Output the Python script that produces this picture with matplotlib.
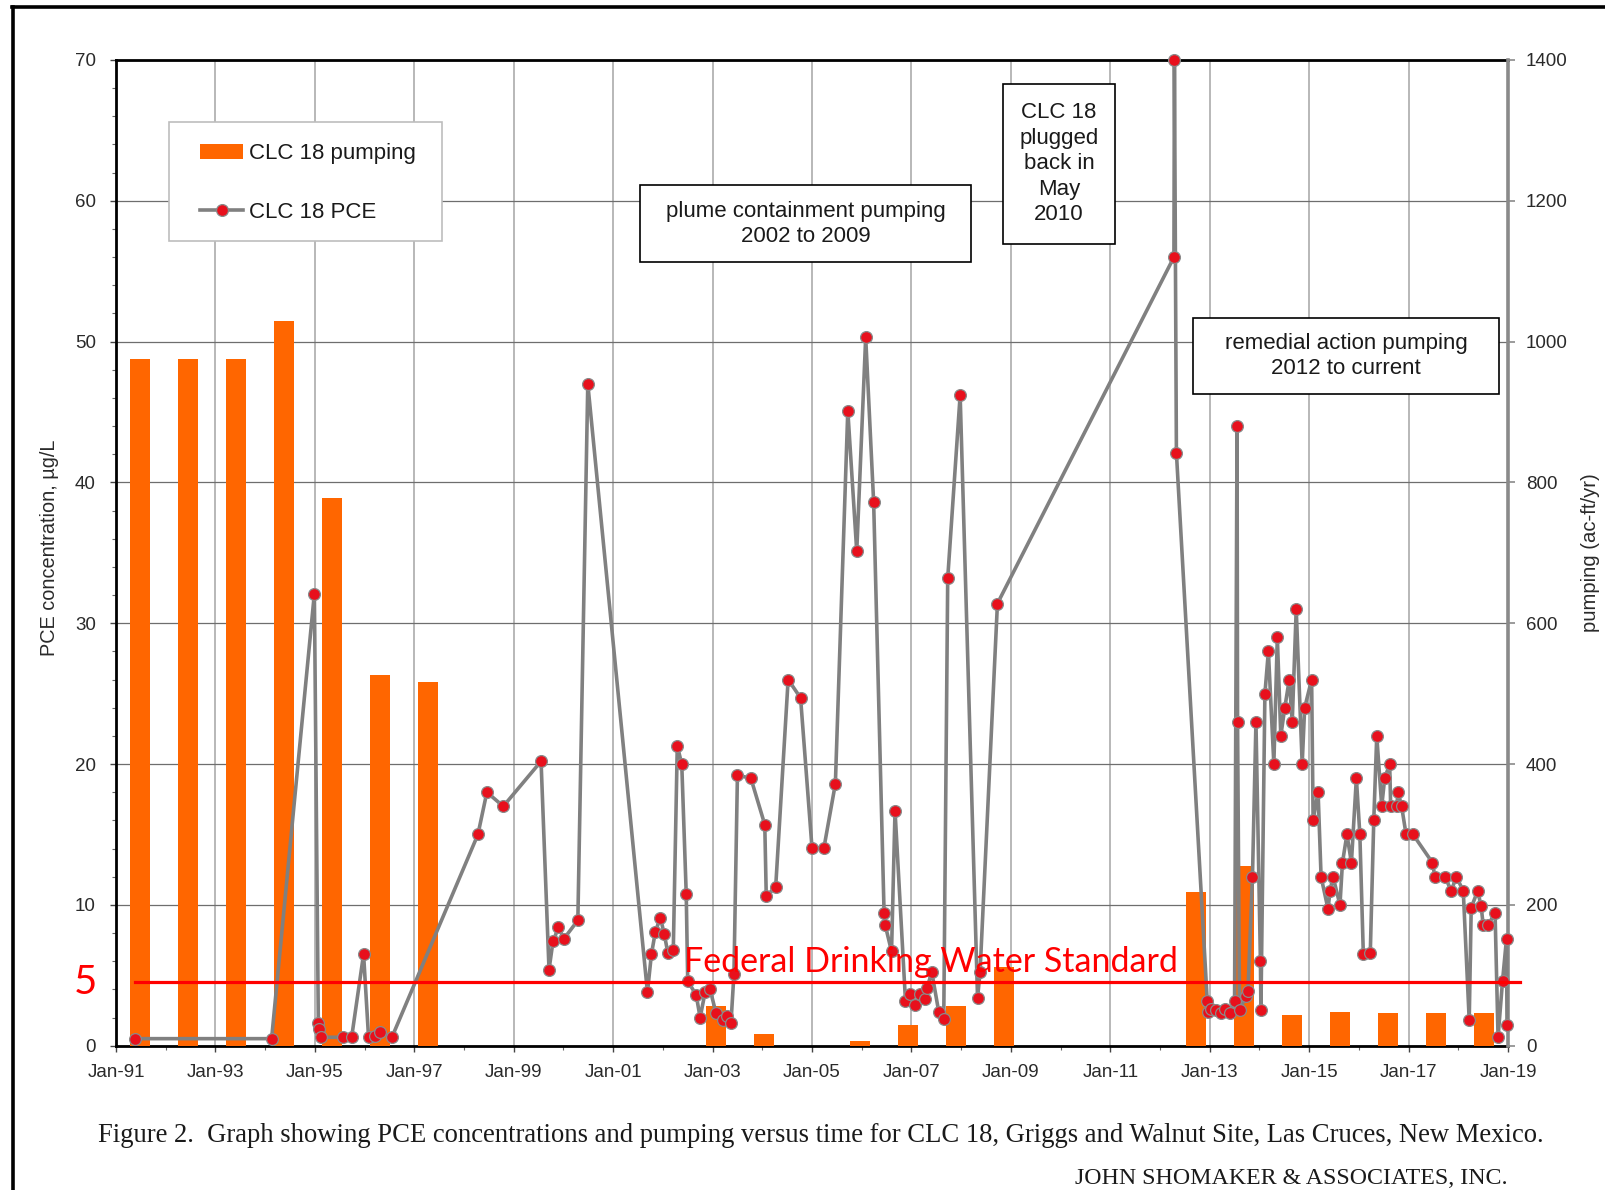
import matplotlib
matplotlib.use("Agg")
import matplotlib.pyplot as plt
from matplotlib.patches import Rectangle, Patch
from matplotlib.lines import Line2D

# ---------------- data ----------------
pump_years = list(range(1991, 2020))
pump_values = [975, 975, 975, 1030, 778, 527, 517, 0, 0, 0, 0, 0, 56, 16, 0,
               7, 30, 57, 112, 0, 0, 0, 218, 255, 43, 48, 46, 46, 46]

pce_dates = [1991.38, 1994.13, 1994.99, 1995.07, 1995.09, 1995.12, 1995.57, 1995.74,
             1995.98, 1996.08, 1996.21, 1996.31, 1996.55,
             1998.28, 1998.46, 1998.79, 1999.55, 1999.71, 1999.79, 1999.90, 2000.01,
             2000.29, 2000.49,
             2001.69, 2001.77, 2001.85, 2001.95, 2002.03, 2002.10, 2002.21, 2002.29,
             2002.38, 2002.47, 2002.50, 2002.67, 2002.75, 2002.85, 2002.95, 2003.07,
             2003.20, 2003.30, 2003.37, 2003.43, 2003.50, 2003.77, 2004.05, 2004.08,
             2004.27, 2004.52, 2004.77, 2005.00, 2005.24, 2005.47, 2005.72, 2005.90,
             2006.08, 2006.24, 2006.45, 2006.47, 2006.60, 2006.67, 2006.88, 2006.98,
             2007.08, 2007.18, 2007.28, 2007.31, 2007.41, 2007.55, 2007.65, 2007.73,
             2007.98, 2008.33, 2008.38, 2008.73,
             2012.28, 2012.29, 2012.33,
             2012.95, 2012.97, 2013.03, 2013.13, 2013.23, 2013.30, 2013.40, 2013.50,
             2013.55, 2013.56, 2013.60, 2013.72, 2013.77, 2013.86, 2013.93, 2014.02,
             2014.03, 2014.11, 2014.18, 2014.29, 2014.36, 2014.43, 2014.51, 2014.60,
             2014.66, 2014.74, 2014.86, 2014.91, 2015.05, 2015.08, 2015.18, 2015.24,
             2015.38, 2015.42, 2015.48, 2015.62, 2015.67, 2015.76, 2015.85, 2015.95,
             2016.02, 2016.09, 2016.23, 2016.30, 2016.36, 2016.46, 2016.52, 2016.62,
             2016.64, 2016.76, 2016.79, 2016.86, 2016.95, 2017.09, 2017.48, 2017.53,
             2017.73, 2017.86, 2017.96, 2018.10, 2018.22, 2018.26, 2018.39, 2018.46,
             2018.50, 2018.60, 2018.74, 2018.80, 2018.89, 2018.97, 2018.98]

pce_values = [0.5, 0.5, 32.1, 1.6, 1.2, 0.6, 0.6, 0.6,
              6.5, 0.6, 0.7, 1.0, 0.6,
              15.0, 18.0, 17.0, 20.2, 5.4, 7.4, 8.4, 7.6,
              8.9, 47.0,
              3.8, 6.5, 8.1, 9.1, 7.9, 6.6, 6.8, 21.3,
              20.0, 10.8, 4.6, 3.6, 2.0, 3.8, 4.0, 2.3,
              1.8, 2.1, 1.6, 5.1, 19.2, 19.0, 15.7, 10.6,
              11.3, 26.0, 24.7, 14.05, 14.05, 18.6, 45.1, 35.1,
              50.3, 38.6, 9.4, 8.6, 6.7, 16.7, 3.2, 3.7,
              2.9, 3.7, 3.3, 4.1, 5.2, 2.4, 1.9, 33.2,
              46.2, 3.4, 5.2, 31.4,
              56.0, 70.0, 42.1,
              3.2, 2.4, 2.6, 2.5, 2.3, 2.6, 2.3, 3.2,
              44.0, 23.0, 2.5, 3.5, 3.9, 12.0, 23.0, 6.0,
              2.5, 25.0, 28.0, 20.0, 29.0, 22.0, 24.0, 26.0,
              23.0, 31.0, 20.0, 24.0, 26.0, 16.0, 18.0, 12.0,
              9.7, 11.0, 12.0, 10.0, 13.0, 15.0, 13.0, 19.0,
              15.0, 6.5, 6.6, 16.0, 22.0, 17.0, 19.0, 20.0,
              17.0, 17.0, 18.0, 17.0, 15.0, 15.0, 13.0, 12.0,
              12.0, 11.0, 12.0, 11.0, 1.8, 9.8, 11.0, 9.9,
              8.6, 8.6, 9.4, 0.6, 4.6, 7.6, 1.5]

x_tick_years = list(range(1991, 2020, 2))
x_tick_labels = ["Jan-%02d" % (y % 100) for y in x_tick_years]
left_ticks = list(range(0, 71, 10))
right_ticks = list(range(0, 1401, 200))
standard_value = 5
standard_line_level = 4.55  # hand-drawn line sits slightly below 5

# ---------------- figure ----------------
W, H, DPI = 1606, 1190, 100
fig = plt.figure(figsize=(W / DPI, H / DPI), dpi=DPI)
fig.patch.set_facecolor("white")

def fx(px):
    return px / W

def fy(py):
    return 1 - py / H

L, R, T, B = 116, 1508, 60, 1045.7
pos = [fx(L), fy(B), (R - L) / W, (B - T) / H]

SANS = ["Liberation Sans", "DejaVu Sans"]
tick_color = "#2a2a2a"

# base axes: grid, left axis, x axis
ax = fig.add_axes(pos, zorder=0)
ax.set_xlim(1991, 2019)
ax.set_ylim(0, 70)
ax.set_xticks(x_tick_years)
ax.set_xticks(list(range(1991, 2020)), minor=True)
ax.set_xticklabels(x_tick_labels)
ax.set_yticks(left_ticks)
ax.set_yticks(list(range(0, 71, 2)), minor=True)
ax.xaxis.grid(True, which="major", color="#b8b8b8", lw=1.4)
ax.yaxis.grid(True, which="major", color="#6e6e6e", lw=0.9)
ax.set_axisbelow(True)
for s in ["left", "bottom", "top"]:
    ax.spines[s].set_color("black")
    ax.spines[s].set_linewidth(2.0)
ax.spines["right"].set_visible(False)
ax.tick_params(axis="both", which="major", direction="out", length=4.5, width=1.0,
               colors="#444444", labelcolor=tick_color, labelsize=13.5)
ax.tick_params(axis="both", which="minor", direction="out", length=3, width=0.8,
               colors="#666666")
ax.tick_params(axis="x", pad=9)
ax.tick_params(axis="y", pad=10)
for lab in ax.get_xticklabels() + ax.get_yticklabels():
    lab.set_family(SANS)

# bar axes (pumping, right axis)
axb = fig.add_axes(pos, zorder=1)
axb.patch.set_visible(False)
axb.set_xlim(-0.5, len(pump_years) - 0.5)
axb.set_ylim(0, 1400)
axb.bar(range(len(pump_years)), pump_values, width=0.4, color="#ff6600", zorder=2)
axb.xaxis.set_visible(False)
axb.yaxis.tick_right()
axb.set_yticks(right_ticks)
for s in ["left", "bottom", "top"]:
    axb.spines[s].set_visible(False)
axb.spines["right"].set_color("#8a8a8a")
axb.spines["right"].set_linewidth(2.6)
axb.tick_params(axis="y", direction="out", length=5, width=1.2, colors="#8a8a8a",
                labelcolor=tick_color, labelsize=13.5, pad=8)
for lab in axb.get_yticklabels():
    lab.set_family(SANS)

# line axes (PCE)
axl = fig.add_axes(pos, zorder=2)
axl.patch.set_visible(False)
axl.set_xlim(1991, 2019)
axl.set_ylim(0, 70)
axl.axis("off")
axl.plot(pce_dates, pce_values, color="#808080", lw=2.6, marker="o", ms=8.5,
         mfc="#e8101c", mec="#8a8a8a", mew=0.9, zorder=3, clip_on=False)

# red standard line
axl.plot([1991.38, 2019.25], [standard_line_level, standard_line_level],
         color="#ff0000", lw=2.3, zorder=4, clip_on=False)

# ------------- texts -------------
renderer = fig.canvas.get_renderer()

def fit(t, target_w):
    w = t.get_window_extent(renderer).width
    t.set_fontsize(t.get_fontsize() * target_w / w)

fig.text(fx(85), fy(983), str(standard_value), color="#ff0000", fontsize=29,
         family=["Lato", "DejaVu Sans"], ha="center", va="center")
t_fed = fig.text(fx(684), fy(971.5), "Federal Drinking Water Standard", color="#ff0000",
                 fontsize=23, family=["Lato", "DejaVu Sans"], ha="left", va="baseline",
                 zorder=10)
fit(t_fed, 494)

t_yl = fig.text(fx(50), fy(548), "PCE concentration, µg/L", rotation=90, ha="center",
                va="center", fontsize=13, family=SANS, color=tick_color)
fit_h = t_yl.get_window_extent(renderer).height
t_yl.set_fontsize(13 * 215 / fit_h)
t_yr = fig.text(fx(1591), fy(553), "pumping (ac-ft/yr)", rotation=90, ha="center",
                va="center", fontsize=12.5, family=SANS, color=tick_color)
fit_h = t_yr.get_window_extent(renderer).height
t_yr.set_fontsize(12.5 * 159 / fit_h)

cap = fig.text(fx(821), fy(1135), "Figure 2.  Graph showing PCE concentrations and pumping "
               "versus time for CLC 18, Griggs and Walnut Site, Las Cruces, New Mexico.",
               ha="center", va="center", fontsize=17,
               family=["Liberation Serif", "DejaVu Serif"], color="#1a1a1a")
fit(cap, 1444)
jsa = fig.text(fx(1291), fy(1184), "JOHN SHOMAKER & ASSOCIATES, INC.", ha="center",
               va="baseline", fontsize=17, family=["Liberation Serif", "DejaVu Serif"],
               color="#1a1a1a")
fit(jsa, 432)

# annotation boxes
def box(x0, y0, x1, y1, text, ec="black", lw=1.2, ls=1.28):
    r = Rectangle((fx(x0), fy(y1)), fx(x1) - fx(x0), fy(y0) - fy(y1),
                  transform=fig.transFigure, facecolor="white", edgecolor=ec, lw=lw,
                  zorder=20)
    fig.patches.append(r)
    if text:
        fig.text(fx((x0 + x1) / 2), fy((y0 + y1) / 2), text, ha="center", va="center",
                 fontsize=16, family=SANS, color="#1a1a1a", linespacing=ls, zorder=21)

box(640.1, 185.4, 970.9, 262.2, "plume containment pumping\n2002 to 2009")
box(1002.7, 84.0, 1115.4, 243.8, "CLC 18\nplugged\nback in\nMay\n2010")
box(1193.2, 317.5, 1499.4, 394.3, "remedial action pumping\n2012 to current")
box(169.0, 121.9, 442.5, 240.7, None, ec="#bdbdbd", lw=1.2)

# legend
handles = [Patch(facecolor="#ff6600", edgecolor="none"),
           Line2D([], [], color="#808080", lw=2.6, marker="o", ms=8.5, mfc="#e8101c",
                  mec="#8a8a8a", mew=0.9)]
leg = fig.legend(handles, ["CLC 18 pumping", "CLC 18 PCE"], loc="center left",
                 bbox_to_anchor=(fx(200), fy(183)), bbox_transform=fig.transFigure,
                 frameon=False, borderpad=0, borderaxespad=0, handlelength=1.94,
                 handletextpad=0.25, labelspacing=1.67, numpoints=1,
                 prop={"family": SANS, "size": 16})
leg.set_zorder(22)
for t in leg.get_texts():
    t.set_color("#1a1a1a")

# page frame lines
fig.add_artist(Line2D([fx(12), fx(W)], [fy(7), fy(7)], transform=fig.transFigure,
                      color="black", lw=2.6))
fig.add_artist(Line2D([fx(13), fx(13)], [fy(7), fy(H + 5)], transform=fig.transFigure,
                      color="black", lw=2.6))

fig.savefig("out.png", dpi=DPI, facecolor="white")
